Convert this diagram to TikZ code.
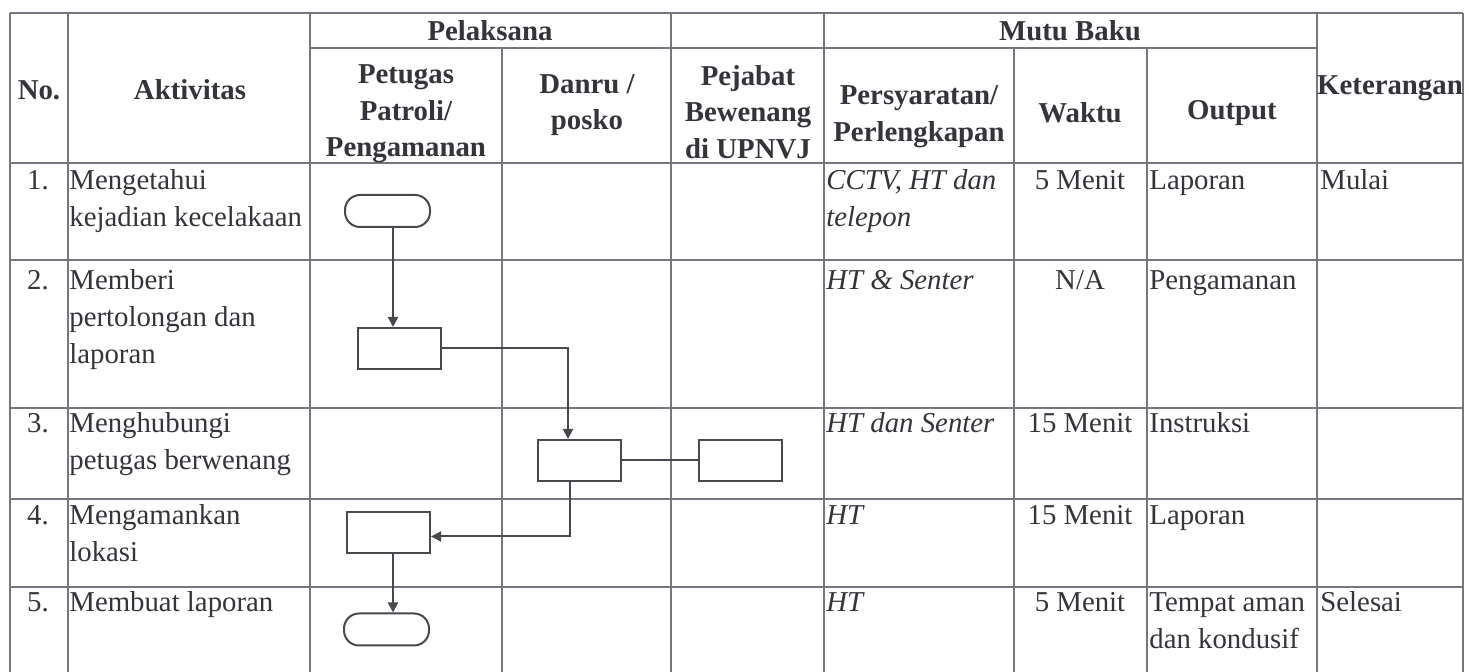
\documentclass[tikz,border=0pt]{standalone}
\usepackage{fontspec}
\setmainfont{LiberationSerif}[Extension=.ttf, UprightFont=*-Regular, BoldFont=*-Bold, ItalicFont=*-Italic, BoldItalicFont=*-BoldItalic]
\usetikzlibrary{arrows.meta}
\definecolor{gridc}{RGB}{118,118,126}
\definecolor{ink}{RGB}{52,52,58}
\definecolor{shapec}{RGB}{72,72,78}
\newcommand{\cf}{\fontsize{14.4}{18.3}\selectfont}
\newcommand{\mlt}[2]{\parbox[t]{#1}{\raggedright #2}}
\begin{document}
\begin{tikzpicture}[x=0.5pt,y=-0.5pt,
  gridline/.style={draw=gridc, line width=0.8pt},
  hd/.style={font=\cf\bfseries, text=ink, align=center, inner sep=0pt},
  tx/.style={font=\cf, text=ink, anchor=base west, inner sep=0pt},
  txc/.style={font=\cf, text=ink, anchor=base, inner sep=0pt},
  txi/.style={font=\cf\itshape, text=ink, anchor=base west, inner sep=0pt},
  procbox/.style={draw=shapec, line width=1pt, minimum width=41.5pt, minimum height=20.5pt, inner sep=0pt},
  termbox/.style={draw=shapec, line width=1pt, minimum width=42.5pt, minimum height=16pt, inner sep=0pt, rounded corners=7.5pt},
  link/.style={draw=shapec, line width=1pt},
  arr/.style={link, -{Triangle[width=5pt,length=5pt]}}
]
\useasboundingbox (0,0) rectangle (1468,672);
\fill[white] (0,0) rectangle (1468,672);

% grid
\foreach \yy in {13,163,260,408,499,587}
  \draw[gridline] (10,\yy) -- (1463,\yy);
\draw[gridline] (310,48) -- (1317,48);
\foreach \xx in {10,68,310,671,824,1317,1463}
  \draw[gridline] (\xx,13) -- (\xx,672);
\foreach \xx in {502,1014,1147}
  \draw[gridline] (\xx,48) -- (\xx,672);

% header
\node[hd] (hNo) at (39,90) {No.};
\node[hd] (hAkt) at (190,90) {Aktivitas};
\node[hd] (hPel) at (490,31) {Pelaksana};
\node[hd] (hMutu) at (1070,31) {Mutu Baku};
\node[hd] (hPet) at (406,114) {Petugas\\Patroli/\\Pengamanan};
\node[hd] (hDan) at (587,105) {Danru /\\posko};
\node[hd] (hPej) at (748,112) {Pejabat\\Bewenang\\di UPNVJ};
\node[hd] (hPer) at (919,117) {Persyaratan/\\Perlengkapan};
\node[hd] (hWak) at (1080,113) {Waktu};
\node[hd] (hOut) at (1232,113) {Output};
\node[hd] (hKet) at (1390,88) {Keterangan};

% column No.
\node[txc] (n1) at (38,190) {1.};
\node[txc] (n2) at (38,290) {2.};
\node[txc] (n3) at (38,433) {3.};
\node[txc] (n4) at (38,525) {4.};
\node[txc] (n5) at (38,612) {5.};

% column Aktivitas
\node[tx] (a1) at (69,190) {\mlt{125pt}{Mengetahui\\kejadian kecelakaan}};
\node[tx] (a2) at (69,290) {\mlt{125pt}{Memberi\\pertolongan dan\\laporan}};
\node[tx] (a3) at (69,433) {\mlt{125pt}{Menghubungi\\petugas berwenang}};
\node[tx] (a4) at (69,525) {\mlt{125pt}{Mengamankan\\lokasi}};
\node[tx] (a5) at (69,612) {Membuat laporan};

% column Persyaratan
\node[txi] (p1) at (826,190) {\mlt{96pt}{CCTV, HT dan\\telepon}};
\node[txi] (p2) at (826,290) {HT \& Senter};
\node[txi] (p3) at (826,433) {HT dan Senter};
\node[txi] (p4) at (826,525) {HT};
\node[txi] (p5) at (826,612) {HT};

% column Waktu
\node[txc] (w1) at (1080,190) {5 Menit};
\node[txc] (w2) at (1080,290) {N/A};
\node[txc] (w3) at (1080,433) {15 Menit};
\node[txc] (w4) at (1080,525) {15 Menit};
\node[txc] (w5) at (1080,612) {5 Menit};

% column Output
\node[tx] (o1) at (1149,190) {Laporan};
\node[tx] (o2) at (1149,290) {Pengamanan};
\node[tx] (o3) at (1149,433) {Instruksi};
\node[tx] (o4) at (1149,525) {Laporan};
\node[tx] (o5) at (1149,612) {\mlt{86pt}{Tempat aman\\dan kondusif}};

% column Keterangan
\node[tx] (k1) at (1320,190) {Mulai};
\node[tx] (k5) at (1320,612) {Selesai};

% flowchart
\node[termbox] (t1) at (387.5,211) {};
\node[procbox] (b2) at (399.5,348.5) {};
\node[procbox] (b3) at (579.5,460.5) {};
\node[procbox] (b3r) at (740.5,460.5) {};
\node[procbox] (b4) at (388.5,532.5) {};
\node[termbox] (t5) at (386.5,629.5) {};

\draw[arr] ([xshift=2.75pt]t1.south) -- ([xshift=2.75pt]t1.south |- b2.north);
\draw[arr] (b2.east) -| ([xshift=-5.75pt]b3.north);
\draw[link] (b3.east) -- (b3r.west);
\draw[arr] ([xshift=-5pt]b3.south) |- ([yshift=-2pt]b4.east);
\draw[arr] ([xshift=2.25pt]b4.south) -- ([xshift=2.25pt]b4.south |- t5.north);
\end{tikzpicture}
\end{document}
